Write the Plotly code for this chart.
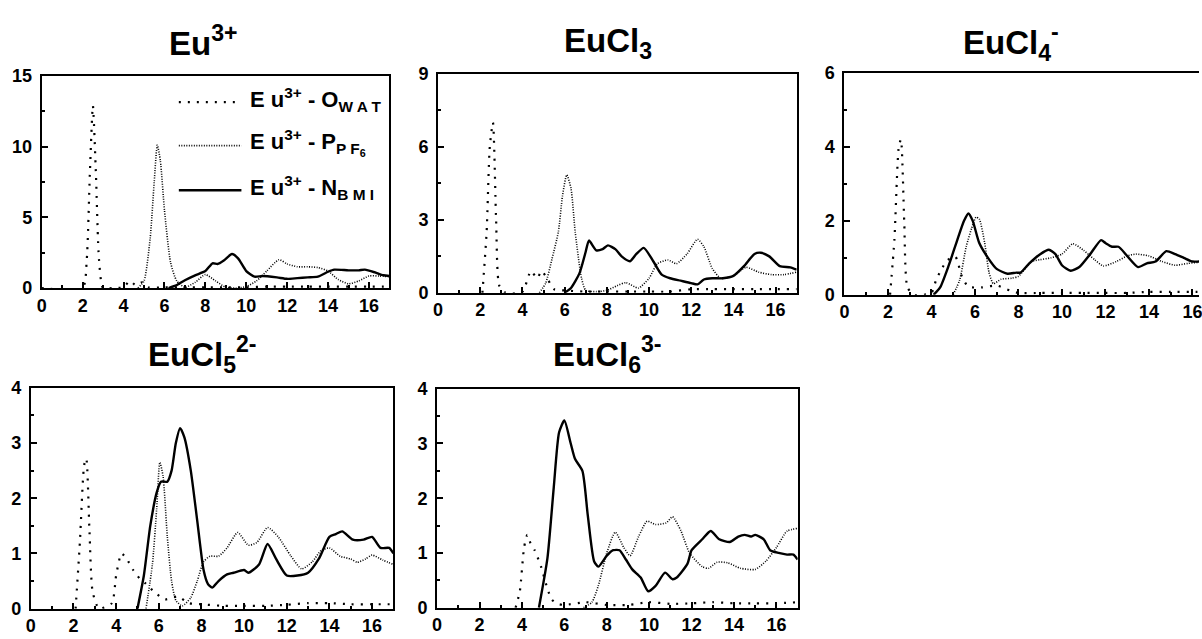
import plotly.graph_objects as go

W, H = 1202, 639

# ---------------- data (r in Å, g(r)) ----------------
# Panel 1: Eu3+
eu_owat_x = [0, 2.0, 2.2, 2.35, 2.5, 2.65, 2.8, 3.0, 3.5, 4.0, 4.3, 4.6, 4.9, 5.2, 6, 7, 8, 9, 10, 11, 12, 13, 14, 15, 16, 17]
eu_owat_y = [0, 0, 2.0, 8.0, 12.9, 8.0, 2.0, 0, 0, 0.05, 0.5, 0.2, 0.4, 0.05, 0.05, 0.05, 0.05, 0.05, 0.05, 0.1, 0.1, 0.1, 0.1, 0.1, 0.1, 0.1]
eu_ppf6_x = [4.7, 5.0, 5.3, 5.5, 5.65, 5.8, 6.0, 6.3, 6.6, 7.0, 7.5, 8.0, 8.5, 9.0, 9.5, 10.0, 10.5, 11.0, 11.6, 12.0, 12.5, 13.0, 13.5, 14.0, 14.5, 15.0, 15.5, 16.0, 16.5, 17]
eu_ppf6_y = [0, 0.5, 3.5, 7.5, 10.1, 9.0, 5.5, 1.8, 0.5, 0.05, 0.4, 0.95, 0.5, 0.05, 0, 0.1, 0.5, 1.2, 2.0, 1.7, 1.5, 1.5, 1.45, 1.2, 0.6, 0.3, 0.5, 0.85, 0.85, 0.8]
eu_nbmi_x = [6.2, 6.6, 7.0, 7.5, 8.0, 8.35, 8.6, 8.9, 9.3, 9.6, 10.0, 10.4, 10.8, 11.5, 12.0, 12.5, 13.0, 13.5, 14.0, 14.3, 15.0, 15.5, 15.8, 16.3, 16.7, 17]
eu_nbmi_y = [0, 0.2, 0.55, 0.9, 1.2, 1.75, 1.7, 1.95, 2.4, 2.1, 1.2, 0.8, 0.85, 0.75, 0.65, 0.7, 0.75, 0.8, 1.15, 1.3, 1.25, 1.25, 1.3, 1.1, 0.9, 0.85]

# Panel 2: EuCl3
cl3_owat_x = [2.1, 2.3, 2.45, 2.6, 2.75, 2.9, 3.2, 4.0, 4.4, 4.7, 4.9, 5.2, 5.5, 6.0, 7, 8, 9, 10, 11, 12, 13, 14, 15, 16, 17]
cl3_owat_y = [0, 2.5, 6.0, 7.0, 3.0, 0.3, 0, 0.05, 0.9, 0.6, 0.9, 0.55, 0.15, 0.1, 0.05, 0.05, 0.05, 0.05, 0.05, 0.15, 0.15, 0.15, 0.15, 0.15, 0.15]
cl3_ppf6_x = [4.8, 5.1, 5.4, 5.7, 5.9, 6.1, 6.3, 6.5, 6.8, 7.0, 7.5, 8.0, 8.5, 8.9, 9.5, 10.0, 10.4, 10.9, 11.3, 11.8, 12.3, 12.6, 13.0, 13.4, 14.0, 14.6, 15.2, 15.8, 16.4, 17]
cl3_ppf6_y = [0, 0.4, 1.4, 2.5, 4.0, 4.85, 4.3, 2.5, 0.6, 0.1, 0.05, 0.1, 0.3, 0.42, 0.2, 0.6, 1.2, 1.35, 1.2, 1.6, 2.2, 1.9, 1.0, 0.6, 0.7, 1.05, 0.85, 0.75, 0.75, 0.85]
cl3_nbmi_x = [6.0, 6.3, 6.7, 7.0, 7.15, 7.5, 7.8, 8.05, 8.4, 8.7, 9.1, 9.4, 9.75, 10.2, 10.6, 11.0, 11.5, 12.0, 12.3, 12.6, 13.0, 13.5, 14.0, 14.5, 15.0, 15.3, 15.7, 16.2, 16.7, 17]
cl3_nbmi_y = [0, 0.2, 0.8, 1.7, 2.15, 1.75, 1.8, 1.95, 1.8, 1.5, 1.3, 1.6, 1.85, 1.3, 0.75, 0.6, 0.5, 0.4, 0.35, 0.55, 0.6, 0.6, 0.7, 1.1, 1.6, 1.65, 1.5, 1.1, 1.05, 0.95]

# Panel 3: EuCl4-
cl4_owat_x = [2.1, 2.3, 2.5, 2.6, 2.75, 2.9, 3.2, 4.0, 4.2, 4.45, 4.75, 5.1, 5.4, 5.7, 6.3, 7.0, 7.6, 8, 9, 10, 11, 12, 13, 14, 15, 16, 17]
cl4_owat_y = [0, 1.5, 4.0, 4.2, 2.0, 0.2, 0, 0.05, 0.37, 0.68, 0.94, 1.03, 0.5, 0.22, 0.2, 0.25, 0.12, 0.05, 0.05, 0.05, 0.05, 0.05, 0.05, 0.08, 0.08, 0.08, 0.08]
cl4_ppf6_x = [5.0, 5.3, 5.6, 5.85, 6.05, 6.2, 6.45, 6.65, 6.85, 7.2, 7.7, 8.0, 8.6, 9.0, 9.5, 10.0, 10.5, 11.0, 11.5, 11.9, 12.5, 13.0, 13.4, 14.0, 14.6, 15.2, 15.8, 16.3, 17]
cl4_ppf6_y = [0, 0.4, 1.3, 1.8, 2.1, 2.05, 1.4, 0.6, 0.3, 0.42, 0.45, 0.5, 0.9, 0.95, 1.0, 1.1, 1.38, 1.2, 0.95, 0.78, 0.9, 1.05, 1.1, 1.05, 0.9, 0.8, 0.85, 0.88, 0.9]
cl4_nbmi_x = [4.1, 4.4, 4.8, 5.2, 5.5, 5.7, 5.9, 6.2, 6.6, 7.0, 7.5, 7.9, 8.1, 8.5, 9.0, 9.4, 9.7, 10.0, 10.4, 10.8, 11.3, 11.8, 12.0, 12.3, 12.6, 13.0, 13.5, 13.9, 14.3, 14.8, 15.2, 15.6, 16.0, 16.3, 17]
cl4_nbmi_y = [0, 0.2, 0.8, 1.5, 2.0, 2.2, 2.0, 1.4, 1.0, 0.7, 0.57, 0.6, 0.6, 0.85, 1.1, 1.22, 1.1, 0.8, 0.65, 0.75, 1.1, 1.48, 1.4, 1.3, 1.3, 1.05, 0.75, 0.85, 0.9, 1.18, 1.1, 1.0, 0.9, 0.9, 0.9]

# Panel 4: EuCl5 2-
cl5_owat_x = [2.1, 2.3, 2.5, 2.6, 2.75, 2.9, 3.2, 3.8, 4.0, 4.25, 4.5, 4.8, 5.1, 5.4, 5.8, 6.3, 6.9, 7.4, 8.0, 9, 10, 11, 12, 13, 14, 15, 16, 17]
cl5_owat_y = [0, 1.2, 2.6, 2.72, 1.4, 0.3, 0, 0.1, 0.6, 1.0, 0.9, 0.7, 0.55, 0.45, 0.3, 0.17, 0.22, 0.1, 0.08, 0.05, 0.05, 0.05, 0.07, 0.1, 0.1, 0.08, 0.08, 0.08]
cl5_ppf6_x = [5.4, 5.7, 5.9, 6.05, 6.2, 6.4, 6.6, 6.8, 7.1, 7.5, 7.8, 8.1, 8.4, 8.8, 9.2, 9.7, 10.2, 10.6, 11.1, 11.6, 12.2, 12.7, 13.2, 13.6, 14.0, 14.5, 15.0, 15.3, 15.7, 16.0, 16.5, 17]
cl5_ppf6_y = [0, 0.8, 1.8, 2.65, 2.4, 1.3, 0.5, 0.15, 0.05, 0.2, 0.5, 0.85, 0.95, 0.95, 1.1, 1.38, 1.15, 1.2, 1.47, 1.3, 0.95, 0.72, 0.85, 1.05, 1.1, 0.95, 0.9, 0.84, 0.9, 0.97, 0.88, 0.8]
cl5_nbmi_x = [5.0, 5.3, 5.6, 5.9, 6.1, 6.4, 6.6, 6.8, 7.0, 7.2, 7.5, 7.8, 8.1, 8.3, 8.5, 8.8, 9.2, 9.5, 10.0, 10.2, 10.7, 11.1, 11.5, 12.0, 12.5, 13.0, 13.5, 14.0, 14.3, 14.6, 15.1, 15.6, 16.0, 16.4, 16.8, 17]
cl5_nbmi_y = [0, 0.6, 1.5, 2.1, 2.3, 2.3, 2.5, 3.0, 3.27, 3.1, 2.5, 1.6, 0.7, 0.45, 0.38, 0.5, 0.62, 0.65, 0.7, 0.65, 0.8, 1.17, 0.9, 0.6, 0.6, 0.65, 0.9, 1.3, 1.35, 1.4, 1.25, 1.25, 1.3, 1.1, 1.1, 1.0]

# Panel 5: EuCl6 3-
cl6_owat_x = [3.7, 3.9, 4.1, 4.25, 4.4, 4.6, 4.9, 5.2, 5.4, 5.7, 6.0, 7.0, 8.0, 9, 10, 11, 12, 13, 14, 15, 16, 17]
cl6_owat_y = [0, 0.3, 1.1, 1.33, 1.18, 1.05, 0.75, 0.35, 0.15, 0.07, 0.05, 0.1, 0.05, 0.05, 0.1, 0.07, 0.08, 0.1, 0.08, 0.08, 0.08, 0.1]
cl6_ppf6_x = [6.9, 7.3, 7.6, 8.0, 8.4, 8.8, 9.1, 9.5, 9.9, 10.3, 10.8, 11.1, 11.5, 11.9, 12.5, 12.8, 13.2, 13.7, 14.3, 15.0, 15.5, 16.0, 16.5, 17]
cl6_ppf6_y = [0, 0.1, 0.4, 1.0, 1.38, 1.1, 0.95, 1.3, 1.58, 1.52, 1.55, 1.66, 1.4, 1.0, 0.75, 0.72, 0.83, 0.82, 0.72, 0.7, 0.85, 1.1, 1.4, 1.45]
cl6_nbmi_x = [4.8, 5.2, 5.5, 5.75, 6.0, 6.3, 6.5, 6.85, 7.1, 7.4, 7.6, 8.0, 8.3, 8.6, 8.9, 9.2, 9.6, 9.95, 10.3, 10.75, 11.1, 11.3, 11.8, 12.0, 12.5, 12.9, 13.3, 13.8, 14.2, 14.5, 14.8, 15.0, 15.4, 15.7, 16.1, 16.5, 16.8, 17]
cl6_nbmi_y = [0, 0.9, 2.2, 3.2, 3.42, 3.0, 2.72, 2.5, 1.7, 0.85, 0.75, 0.95, 1.05, 1.05, 0.88, 0.7, 0.55, 0.3, 0.4, 0.64, 0.52, 0.55, 0.8, 1.05, 1.25, 1.4, 1.25, 1.2, 1.3, 1.33, 1.3, 1.33, 1.25, 1.05, 1.0, 0.97, 0.97, 0.88]

panel_titles = ["Eu<sup>3+</sup>", "EuCl<sub>3</sub>", "EuCl<sub>4</sub><sup>-</sup>",
                "EuCl<sub>5</sub><sup>2-</sup>", "EuCl<sub>6</sub><sup>3-</sup>"]
y_max = [15, 9, 6, 4, 4]
y_dtick = [5, 3, 2, 1, 1]
x_max = [17, 17, 16.3, 17, 17]
x_tickvals = [0, 2, 4, 6, 8, 10, 12, 14, 16]
legend_labels = ["E u<sup>3+</sup> - O<sub>W A T</sub>",
                 "E u<sup>3+</sup> - P<sub>P F<sub>6</sub></sub>",
                 "E u<sup>3+</sup> - N<sub>B M I</sub>"]

panels = [
    (eu_owat_x, eu_owat_y, eu_ppf6_x, eu_ppf6_y, eu_nbmi_x, eu_nbmi_y),
    (cl3_owat_x, cl3_owat_y, cl3_ppf6_x, cl3_ppf6_y, cl3_nbmi_x, cl3_nbmi_y),
    (cl4_owat_x, cl4_owat_y, cl4_ppf6_x, cl4_ppf6_y, cl4_nbmi_x, cl4_nbmi_y),
    (cl5_owat_x, cl5_owat_y, cl5_ppf6_x, cl5_ppf6_y, cl5_nbmi_x, cl5_nbmi_y),
    (cl6_owat_x, cl6_owat_y, cl6_ppf6_x, cl6_ppf6_y, cl6_nbmi_x, cl6_nbmi_y),
]

# ---------------- layout geometry (pixels) ----------------
boxes = [  # x0, x1, ytop, ybottom
    (37, 387, 68, 287),
    (436, 797, 66, 292),
    (845, 1202, 65, 294),
    (26, 391, 390, 618),
    (435, 798, 391, 617),
]
title_pos = [(200, 32), (607, 34), (1013, 34), (199, 356), (607, 356)]

styles = [
    dict(color="black", width=2.2, dash="2px,7px"),
    dict(color="black", width=1.6, dash="1px,1.5px"),
    dict(color="black", width=2.4),
]

FONT = "Arial, Liberation Sans, sans-serif"
TICKFONT = dict(family=FONT, size=18, color="black")
fig = go.Figure()
layout = dict(width=W, height=H, margin=dict(l=0, r=0, t=0, b=0),
              paper_bgcolor="white", plot_bgcolor="white", showlegend=False)

for i, data in enumerate(panels):
    n = "" if i == 0 else str(i + 1)
    for k in range(3):
        fig.add_trace(go.Scatter(x=data[2 * k], y=data[2 * k + 1], mode="lines",
                                 line=dict(shape="spline", smoothing=0.6, **styles[k]),
                                 xaxis="x" + n, yaxis="y" + n, hoverinfo="skip"))
    x0, x1, yt, yb = boxes[i]
    y_tickvals = list(range(0, y_max[i] + 1, y_dtick[i]))
    layout["xaxis" + n] = dict(
        domain=[x0 / W, x1 / W], anchor="y" + n, range=[0, x_max[i]],
        tickvals=x_tickvals, ticktext=["<b>%d</b>" % v for v in x_tickvals],
        ticks="inside", ticklen=6, tickwidth=1.5, tickcolor="black",
        minor=dict(ticks="inside", ticklen=3, tickwidth=1.5, tickcolor="black", dtick=1, tick0=0),
        showline=True, linecolor="black", linewidth=2, mirror=True,
        showgrid=False, zeroline=False, ticklabeloverflow="allow",
        tickfont=TICKFONT)
    layout["yaxis" + n] = dict(
        domain=[1 - yb / H, 1 - yt / H], anchor="x" + n, range=[0, y_max[i]],
        tickvals=y_tickvals, ticktext=["<b>%d</b>" % v for v in y_tickvals],
        ticks="inside", ticklen=6, tickwidth=1.5, tickcolor="black",
        minor=dict(ticks="inside", ticklen=3, tickwidth=1.5, tickcolor="black", dtick=y_dtick[i] / 2),
        showline=True, linecolor="black", linewidth=2, mirror=(i != 2),
        showgrid=False, zeroline=False, ticklabelstandoff=4,
        tickfont=TICKFONT)

annotations = []
for i, t in enumerate(panel_titles):
    tx, ty = title_pos[i]
    annotations.append(dict(text="<b>" + t + "</b>", x=tx / W, y=1 - ty / H, xref="paper", yref="paper",
                            xanchor="center", yanchor="middle", showarrow=False,
                            font=dict(family=FONT, size=33, color="black")))

# legend (inside first panel)
shapes = []
leg_rows = [95, 140, 186]
for k in range(3):
    shapes.append(dict(type="line", xref="paper", yref="paper",
                       x0=175 / W, x1=238 / W, y0=1 - leg_rows[k] / H, y1=1 - leg_rows[k] / H,
                       line=styles[k]))
    annotations.append(dict(text="<b>" + legend_labels[k] + "</b>", x=245 / W, y=1 - (leg_rows[k] - 3) / H,
                            xref="paper", yref="paper", xanchor="left", yanchor="middle",
                            showarrow=False,
                            font=dict(family=FONT, size=22, color="black")))

layout["annotations"] = annotations
layout["shapes"] = shapes
fig.update_layout(**layout)
fig.write_html("out.html")
